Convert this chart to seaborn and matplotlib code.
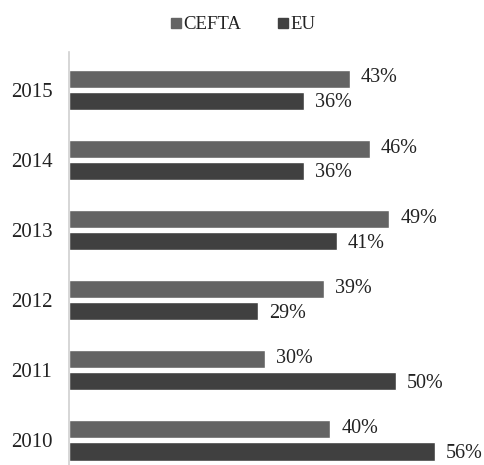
import pandas as pd
import matplotlib
matplotlib.use('Agg')
import matplotlib.pyplot as plt
import seaborn as sns
from matplotlib.lines import Line2D

years = ['2015', '2014', '2013', '2012', '2011', '2010']
cefta = [43, 46, 49, 39, 30, 40]
eu = [36, 36, 41, 29, 50, 56]
series = ['CEFTA', 'EU']
colors = ['#646464', '#404040']

df = pd.DataFrame({
    'year': years * 2,
    'share': cefta + eu,
    'region': ['CEFTA'] * len(years) + ['EU'] * len(years),
})

sns.set_style('white')
plt.rcParams['font.family'] = ['Liberation Serif', 'DejaVu Serif']

fig = plt.figure(figsize=(4.84, 4.65), dpi=100)
ax = fig.add_axes([69 / 484, 0.0, 392 / 484, 0.888])

sns.barplot(data=df, y='year', x='share', hue='region', order=years,
            hue_order=series, palette=colors, orient='h', width=0.63,
            gap=0.18, saturation=1, legend=False, ax=ax)

# value labels: CEFTA a touch above its bar, EU a touch below
for cont, dy in zip(ax.containers, [0.5, -1.5]):
    for p in cont:
        w = p.get_width()
        ax.annotate(f'{w:.0f}%', (w, p.get_y() + p.get_height() / 2),
                    xytext=(8, dy), textcoords='offset points',
                    ha='left', va='center', fontsize=14.5, color='#222222')

ax.set_xlim(0, 60)
ax.set_ylim(5.35, -0.535)
ax.set_xlabel('')
ax.set_ylabel('')
ax.set_xticks([])
ax.tick_params(axis='y', length=0, pad=12, labelsize=15, labelcolor='#222222')
for s in ['top', 'right', 'bottom']:
    ax.spines[s].set_visible(False)
ax.spines['left'].set_color('#d0d0d0')
ax.spines['left'].set_linewidth(1.2)

handles = [Line2D([], [], marker='s', linestyle='none', markersize=7,
                  color=c) for c in colors]
fig.legend(handles, series, loc='center', bbox_to_anchor=(0.5, 0.947),
           ncol=2, frameon=False, fontsize=13.5, handletextpad=0.0,
           columnspacing=1.8, handlelength=0.8, labelcolor='#222222')

fig.savefig('out.png', dpi=100)
